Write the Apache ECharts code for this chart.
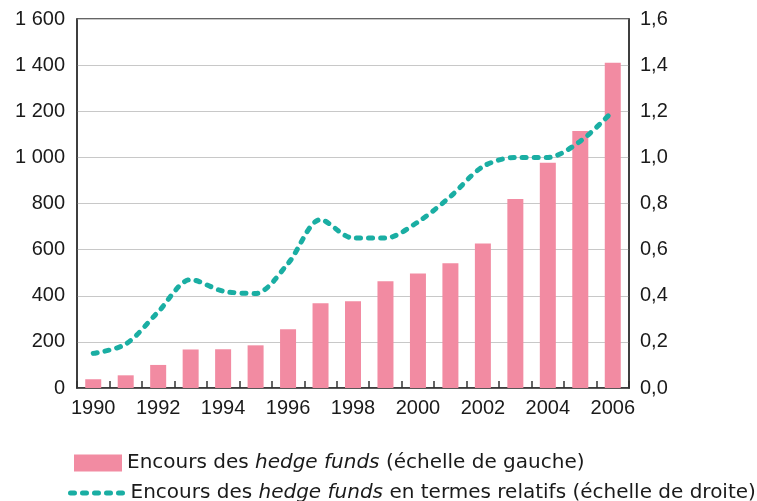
<!DOCTYPE html>
<html><head><meta charset="utf-8">
<script src="https://cdn.jsdelivr.net/npm/echarts@6/dist/echarts.min.js"></script>
<style>html,body{margin:0;padding:0;background:#fff}#c{width:757px;height:501px}</style>
</head><body><div id="c"></div>
<script>
const years = ['1990','1991','1992','1993','1994','1995','1996','1997','1998','1999','2000','2001','2002','2003','2004','2005','2006'];
const encours = [38,55,100,167,168,185,255,367,376,463,497,541,627,820,977,1114,1410];
const relatif = [0.15,0.19,0.33,0.47,0.42,0.41,0.54,0.73,0.65,0.65,0.72,0.83,0.96,1.0,1.0,1.07,1.2];
const leftTickLabels = ['0','200','400','600','800','1 000','1 200','1 400','1 600'];
const rightTickLabels = ['0,0','0,2','0,4','0,6','0,8','1,0','1,2','1,4','1,6'];
const barName = 'Encours des hedge funds (échelle de gauche)';
const lineName = 'Encours des hedge funds en termes relatifs (échelle de droite)';

const FONT = '"Liberation Sans", Arial, Helvetica, sans-serif';
const LFONT = '"DejaVu Sans", "Liberation Sans", sans-serif';
const TXT = '#1a1a1a';
const TEAL = '#1aaea3';
const PINK = '#f28ba2';
const chart = echarts.init(document.getElementById('c'));
const richLegend = {
  n: {fontFamily: LFONT, fontSize: 20, color: TXT},
  i: {fontFamily: LFONT, fontSize: 20, color: TXT, fontStyle: 'italic'}
};
function legendFmt(name) {
  return name.replace('Encours des hedge funds', '{n|Encours des }{i|hedge funds}{n|').concat('}');
}
chart.setOption({
  animation: false,
  grid: {left: 77, top: 19, right: 128, bottom: 113, show: true, borderColor: '#333', borderWidth: 1.5},
  legend: [
    {data: [barName], icon: 'rect', left: 74, top: 453, padding: 0, itemWidth: 48, itemHeight: 17, itemGap: 6,
     formatter: legendFmt, textStyle: {rich: richLegend}, selectedMode: false},
    {data: [lineName], left: 68, top: 483, padding: 0, itemWidth: 55, itemHeight: 14, itemGap: 6,
     formatter: legendFmt, textStyle: {rich: richLegend}, selectedMode: false,
     itemStyle: {opacity: 0},
     lineStyle: {color: TEAL, width: 5, type: [4, 8], cap: 'round', opacity: 1}}
  ],
  xAxis: {
    type: 'category', data: years, boundaryGap: true,
    axisLine: {lineStyle: {color: '#333', width: 1.5}},
    axisTick: {show: true, inside: true, length: 7, interval: 0, alignWithLabel: false, lineStyle: {color: '#333', width: 1.5}},
    axisLabel: {interval: 1, margin: 10, fontFamily: FONT, fontSize: 20, color: TXT}
  },
  yAxis: [
    {type: 'value', min: 0, max: 1600, interval: 200,
     axisLine: {show: true, lineStyle: {color: '#333', width: 1.5}}, axisTick: {show: false},
     splitLine: {lineStyle: {color: '#c8c8c8', width: 1.2}},
     axisLabel: {margin: 12, fontFamily: FONT, fontSize: 20, color: TXT,
       formatter: v => leftTickLabels[Math.round(v / 200)]}},
    {type: 'value', min: 0, max: 1.6, interval: 0.2, position: 'right',
     axisLine: {show: true, lineStyle: {color: '#333', width: 1.5}}, axisTick: {show: false},
     splitLine: {show: false},
     axisLabel: {margin: 11, fontFamily: FONT, fontSize: 20, color: TXT,
       formatter: v => rightTickLabels[Math.round(v / 0.2)]}}
  ],
  series: [
    {name: barName, type: 'bar', data: encours, yAxisIndex: 0, barWidth: 16,
     itemStyle: {color: PINK}},
    {name: lineName, type: 'line', data: relatif, yAxisIndex: 1, smooth: 0.3,
     symbol: 'none', z: 5,
     lineStyle: {color: TEAL, width: 5, type: [4, 8], cap: 'round'},
     itemStyle: {color: TEAL}}
  ]
});
</script></body></html>
